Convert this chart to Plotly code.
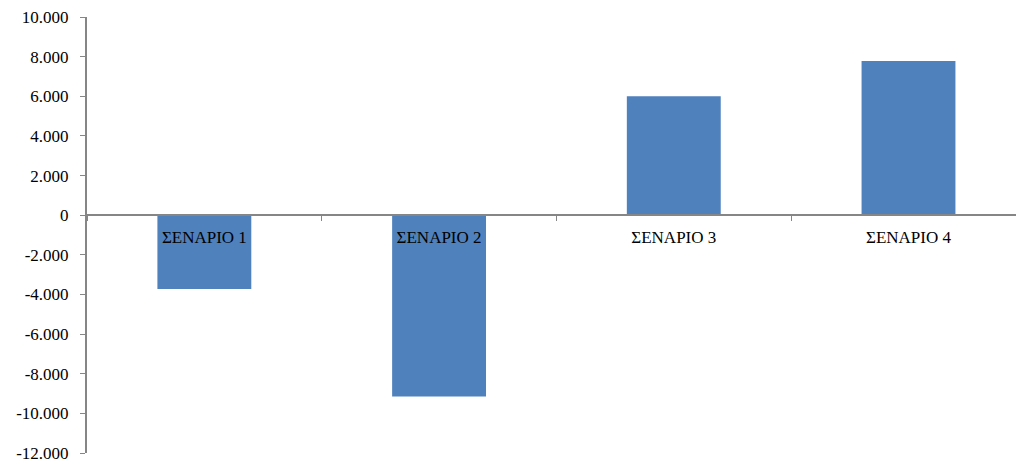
import plotly.graph_objects as go

categories = ["ΣΕΝΑΡΙΟ 1", "ΣΕΝΑΡΙΟ 2", "ΣΕΝΑΡΙΟ 3", "ΣΕΝΑΡΙΟ 4"]
values = [-3720, -9150, 6000, 7780]
y_tickvals = [10000, 8000, 6000, 4000, 2000, 0, -2000, -4000, -6000, -8000, -10000, -12000]
y_ticktext = ["10.000", "8.000", "6.000", "4.000", "2.000", "0", "-2.000", "-4.000",
              "-6.000", "-8.000", "-10.000", "-12.000"]

YMIN, YMAX = -12000, 10000
FONT = dict(family="Liberation Serif, Times New Roman, serif", size=17, color="#000000")
AXC = "#868686"

fig = go.Figure(go.Bar(x=categories, y=values, marker=dict(color="#4F81BD", line=dict(width=0)),
                       width=0.4))

fig.update_layout(
    width=1016, height=463,
    margin=dict(l=87, r=0, t=17, b=8),
    paper_bgcolor="white", plot_bgcolor="white",
    showlegend=False,
    bargap=0.6,
    xaxis=dict(
        range=[-0.5, 3.458],
        anchor="free",
        position=(0 - YMIN) / (YMAX - YMIN),
        showline=True, linecolor=AXC, linewidth=2,
        ticks="outside", tickson="boundaries", ticklen=5, tickcolor=AXC, tickwidth=1,
        showgrid=False, zeroline=False,
        tickfont=FONT, ticklabelstandoff=6,
    ),
    yaxis=dict(
        range=[YMIN, YMAX],
        tickvals=y_tickvals, ticktext=y_ticktext,
        showline=True, linecolor=AXC, linewidth=2,
        ticks="outside", ticklen=5, tickcolor=AXC, tickwidth=1,
        showgrid=False, zeroline=False,
        tickfont=FONT, ticklabelstandoff=8,
        ticklabeloverflow="allow",
    ),
)

fig.write_html("out.html")
